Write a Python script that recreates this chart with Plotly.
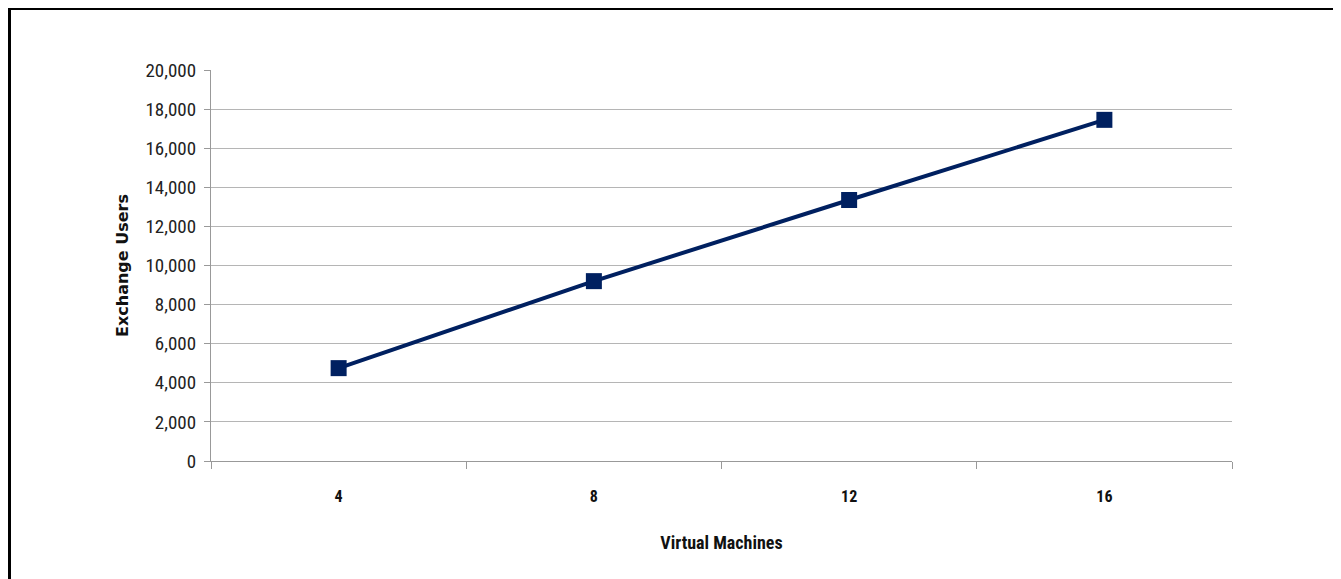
import plotly.graph_objects as go

# Data
vm_labels = ["4", "8", "12", "16"]
exchange_users = [4750, 9200, 13350, 17450]
y_ticks = [0, 2000, 4000, 6000, 8000, 10000, 12000, 14000, 16000, 18000, 20000]

# The page body adds an 8px offset; compensate in the margins.
OFF = 8
W, H = 1341, 579
PL, PR, PT, PB = 211, 1232, 70, 461          # plot area in page pixels
L, T = PL - OFF, PT - OFF
pw, ph = PR - PL, PB - PT
R, B = W - L - pw, H - T - ph

FONT = "Liberation Sans Narrow, Arial Narrow, Roboto Condensed, Liberation Sans, sans-serif"
TITLE_Y_FONT = "DejaVu Sans, Liberation Sans, sans-serif"
NAVY = "#002060"

fig = go.Figure()
fig.add_trace(go.Scatter(
    x=vm_labels, y=exchange_users, mode="lines+markers",
    line=dict(color=NAVY, width=4),
    marker=dict(symbol="square", size=16, color=NAVY),
    showlegend=False, cliponaxis=False,
))

def px_x(p):
    return (p - PL) / pw

def px_y(p):
    return (PB - p) / ph

fig.update_layout(
    width=W, height=H,
    margin=dict(l=L, r=R, t=T, b=B, autoexpand=False),
    paper_bgcolor="white", plot_bgcolor="white",
    font=dict(family=FONT, color="#222222"),
    xaxis=dict(
        type="category", range=[-0.5, 3.5],
        tickson="boundaries", ticks="outside", ticklen=7, tickcolor="#999999", tickwidth=1,
        showline=True, linecolor="#999999", linewidth=1.3,
        showgrid=False, zeroline=False,
        tickfont=dict(size=16, weight="bold", color="#111111", family=FONT),
        ticklabelstandoff=21,
        title=dict(text="Virtual Machines", font=dict(size=18, weight="bold", color="#111111", family=FONT), standoff=31),
    ),
    yaxis=dict(
        range=[0, 20000], tickvals=y_ticks, tickformat=",",
        ticks="outside", ticklen=6, tickcolor="#999999",
        showline=True, linecolor="#999999", linewidth=1.3,
        showgrid=True, gridcolor="#b5b5b5", gridwidth=1.3, zeroline=False,
        tickfont=dict(size=19, color="#222222", family=FONT),
        ticklabelstandoff=4,
        title=dict(text="Exchange Users", font=dict(size=16, weight="bold", color="#111111", family=TITLE_Y_FONT), standoff=12),
    ),
    shapes=[
        dict(type="line", xref="paper", yref="paper",
             x0=px_x(8), x1=px_x(1360), y0=px_y(8.5), y1=px_y(8.5),
             line=dict(color="black", width=3)),
        dict(type="line", xref="paper", yref="paper",
             x0=px_x(9.5), x1=px_x(9.5), y0=px_y(8), y1=px_y(600),
             line=dict(color="black", width=3)),
    ],
)

fig.write_html("out.html")
